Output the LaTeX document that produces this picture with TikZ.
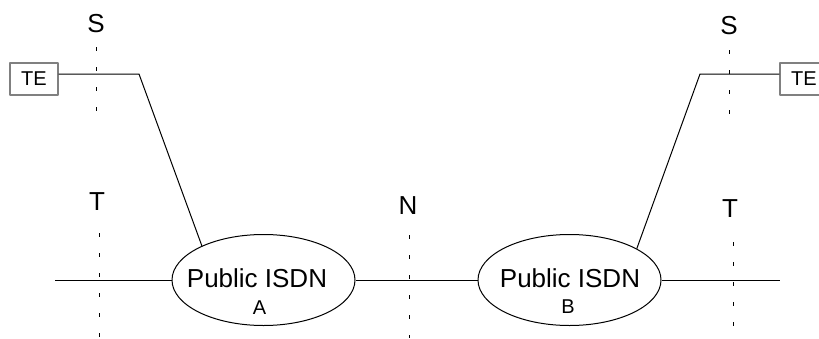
\documentclass[tikz,border=0pt]{standalone}
\usepackage{fontspec}
\setmainfont{Liberation Sans}
\usetikzlibrary{shapes.geometric}
\begin{document}
\begin{tikzpicture}[x=0.5pt,y=-0.5pt,line width=0.5pt,join=round,
    dot/.style={dash pattern=on 2pt off 8pt,line cap=butt},
    big/.style={font=\fontsize{13}{15}\selectfont,inner sep=0pt},
    small/.style={font=\fontsize{10}{12}\selectfont,inner sep=0pt},
    box/.style={draw=gray,line width=0.6pt,minimum width=24pt,minimum height=16pt,inner sep=0pt,font=\fontsize{10}{12}\selectfont},
    net/.style={draw,ellipse,minimum width=91.5pt,minimum height=45.5pt,inner sep=0pt}]
    \useasboundingbox(0,0)rectangle(819,338);
    \path(139,74)coordinate(P)(700,74)coordinate(Q)(55,280)coordinate(L)(780,280)coordinate(R);
    \node[net](A)at(263.5,280){};
    \node[net](B)at(569.5,280){};
    \node[box](TE1)at(34,79){TE};
    \node[box](TE2)at(804,79){TE};
    \draw(L)--(A)(A)--(B)(B)--(R);
    \draw(TE1.east|-P)--(P)--(A.151)(TE2.west|-Q)--(Q)--(B.25);
    \foreach \x/\a/\b in{96/47/111,729/50/114,99/233/338,409/235/338,733/242/326}\draw[dot](\x,\a)--(\x,\b);
    \foreach \n/\t/\x/\y in{S1/S/96/23.5,S2/S/729/26,T1/T/97/202,N/N/408/206,T2/T/730/209}\node[big](\n)at(\x,\y){\t};
    \node[big](pA)at(257,278){Public ISDN};
    \node[small](nA)at(259.5,307.5){A};
    \node[big](pB)at(570,278){Public ISDN};
    \node[small](nB)at(568,306.5){B};
\end{tikzpicture}
\end{document}
